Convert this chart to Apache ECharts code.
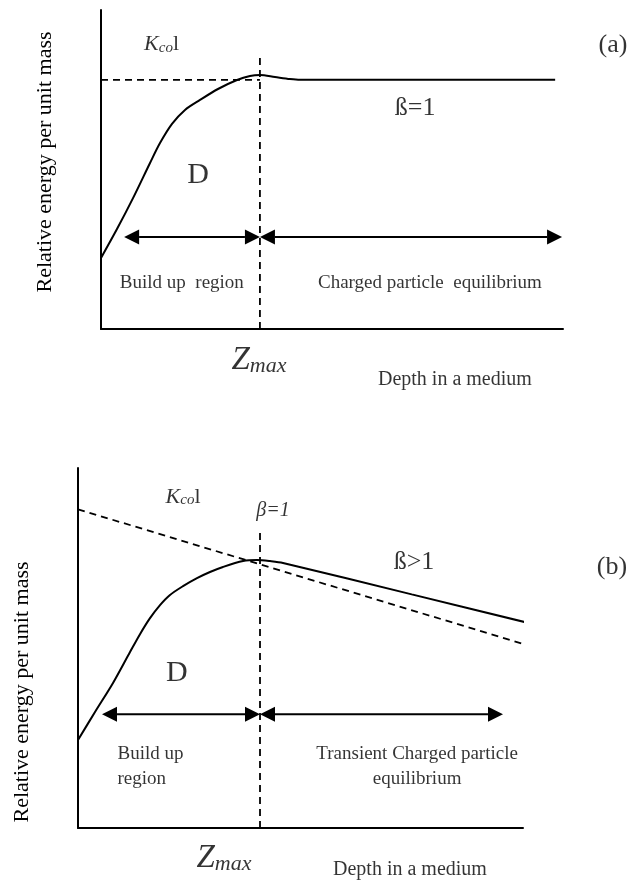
<!DOCTYPE html>
<html>
<head>
<meta charset="utf-8">
<script src="https://cdn.jsdelivr.net/npm/echarts@6/dist/echarts.min.js"></script>
<style>
  html, body { margin: 0; padding: 0; background: #fff; }
  #chart { width: 631px; height: 886px; }
</style>
</head>
<body>
<div id="chart"></div>
<script>
// ---- Panel (a): charged particle equilibrium (beta = 1) ----
const depthA  = [0, 0.346, 0.693, 1.061, 1.277, 1.537, 1.818, 2.143, 2.532, 2.944, 3.225, 3.442, 3.766, 4.091, 4.307, 9.83];
const energyA = [0.285, 0.401, 0.525, 0.666, 0.746, 0.823, 0.879, 0.919, 0.963, 0.999, 1.015, 1.019, 1.011, 1.003, 1.0, 1.0];
const kcolA = 1.0;          // collision kerma level
const zmaxA = 3.44;         // depth of dose maximum
const zmaxTopA = 1.10;      // top of the z_max marker
const arrowYA = 0.369;      // height of the region arrows
const regionsA = [[0.5, zmaxA], [zmaxA, 9.98]];

// ---- Panel (b): transient charged particle equilibrium (beta > 1) ----
const depthB  = [0, 0.382, 0.787, 1.169, 1.393, 1.618, 1.843, 2.067, 2.360, 2.674, 2.966, 3.258, 3.708, 4.022, 4.315, 4.607, 7.5, 10.49];
const energyB = [0.330, 0.435, 0.544, 0.660, 0.727, 0.787, 0.836, 0.874, 0.907, 0.937, 0.960, 0.979, 1.001, 1.005, 1.001, 0.994, 0.876, 0.754];
const kcolDepthB  = [0, 10.09];
const kcolEnergyB = [1.195, 0.686];
const zmaxB = 4.09;
const zmaxTopB = 1.11;
const arrowYB = 0.427;
const regionsB = [[0.54, zmaxB], [zmaxB, 9.55]];

const FONT = '"Liberation Serif", "Times New Roman", serif';
const INK = '#000';

const zip = (xs, ys) => xs.map((x, i) => [x, ys[i]]);

function axesFor(idx, yMax) {
  return {
    x: {
      type: 'value', gridIndex: idx, min: 0, max: 10,
      axisLine: { show: true, onZero: false, lineStyle: { color: INK, width: 2 } },
      axisTick: { show: false }, axisLabel: { show: false }, splitLine: { show: false }
    },
    y: {
      type: 'value', gridIndex: idx, min: 0, max: yMax,
      axisLine: { show: true, onZero: false, lineStyle: { color: INK, width: 2 } },
      axisTick: { show: false }, axisLabel: { show: false }, splitLine: { show: false }
    }
  };
}

function solid(idx, pts, smooth) {
  return {
    type: 'line', xAxisIndex: idx, yAxisIndex: idx, data: pts,
    smooth: smooth, symbol: 'none', clip: false, silent: true,
    lineStyle: { color: INK, width: 2 }
  };
}

function dashed(idx, pts) {
  return {
    type: 'line', xAxisIndex: idx, yAxisIndex: idx, data: pts,
    symbol: 'none', clip: false, silent: true,
    lineStyle: { color: INK, width: 1.8, type: [7, 5] }
  };
}

// double-headed arrows spanning a depth interval
function arrows(idx, spans, y) {
  return {
    type: 'custom', xAxisIndex: idx, yAxisIndex: idx, silent: true, clip: false,
    data: spans.map(s => [s[0], s[1], y]),
    encode: { x: [0, 1], y: 2 },
    renderItem(params, api) {
      const a = api.coord([api.value(0), api.value(2)]);
      const b = api.coord([api.value(1), api.value(2)]);
      const L = 15, H = 7.5;
      return {
        type: 'group',
        children: [
          { type: 'line', shape: { x1: a[0] + L, y1: a[1], x2: b[0] - L, y2: b[1] },
            style: { stroke: INK, lineWidth: 2 } },
          { type: 'polygon', shape: { points: [[a[0], a[1]], [a[0] + L, a[1] - H], [a[0] + L, a[1] + H]] },
            style: { fill: INK } },
          { type: 'polygon', shape: { points: [[b[0], b[1]], [b[0] - L, b[1] - H], [b[0] - L, b[1] + H]] },
            style: { fill: INK } }
        ]
      };
    }
  };
}

const rich = {
  K:   { fontFamily: FONT, fontSize: 22, fontStyle: 'italic', color: INK, lineHeight: 26, verticalAlign: 'bottom' },
  sub: { fontFamily: FONT, fontSize: 15, fontStyle: 'italic', color: INK, lineHeight: 14, verticalAlign: 'bottom' },
  l:   { fontFamily: FONT, fontSize: 22, color: INK, lineHeight: 26, verticalAlign: 'bottom' },
  Z:   { fontFamily: FONT, fontSize: 33, fontStyle: 'italic', color: INK, lineHeight: 34, verticalAlign: 'bottom' },
  zs:  { fontFamily: FONT, fontSize: 22, fontStyle: 'italic', color: INK, lineHeight: 19, verticalAlign: 'bottom' }
};

// text notes placed in data space of a panel
function notes(idx, items) {
  return {
    type: 'scatter', xAxisIndex: idx, yAxisIndex: idx, clip: false, silent: true,
    symbolSize: 1, itemStyle: { color: 'rgba(0,0,0,0)' },
    data: items.map(it => ({
      value: [it.x, it.y],
      label: Object.assign({
        show: true, position: 'inside', formatter: it.text,
        fontFamily: FONT, fontSize: 20, color: INK, rich: rich
      }, it.style || {})
    }))
  };
}

const KCOL = '{K|K}{sub|co}{l|l}';
const ZMAX = '{Z|Z}{zs|max}';

const axA = axesFor(0, 1.28);
const axB = axesFor(1, 1.35);

const option = {
  backgroundColor: '#fff',
  animation: false,
  grid: [
    { left: 101, top: 10, width: 462, height: 319 },
    { left: 78, top: 468, width: 445, height: 360 }
  ],
  xAxis: [axA.x, axB.x],
  yAxis: [axA.y, axB.y],
  graphic: [
    { type: 'text', x: 45, y: 162, rotation: Math.PI / 2,
      style: { text: 'Relative energy per unit mass', font: '22px ' + FONT, fill: INK, align: 'center', verticalAlign: 'middle' } },
    { type: 'text', x: 22, y: 692, rotation: Math.PI / 2,
      style: { text: 'Relative energy per unit mass', font: '22px ' + FONT, fill: INK, align: 'center', verticalAlign: 'middle' } }
  ],
  series: [
    // (a)
    dashed(0, [[0, kcolA], [zmaxA, kcolA]]),
    dashed(0, [[zmaxA, 0], [zmaxA, zmaxTopA]]),
    solid(0, zip(depthA, energyA), 0.3),
    arrows(0, regionsA, arrowYA),
    notes(0, [
      { x: 1.31, y: 1.15, text: KCOL },
      { x: 6.80, y: 0.887, text: 'ß=1', style: { fontSize: 26 } },
      { x: 2.10, y: 0.618, text: 'D', style: { fontSize: 30 } },
      { x: 1.75, y: 0.185, text: 'Build up  region', style: { fontSize: 19 } },
      { x: 7.12, y: 0.185, text: 'Charged particle  equilibrium', style: { fontSize: 19 } },
      { x: 3.42, y: -0.124, text: ZMAX },
      { x: 7.66, y: -0.205, text: 'Depth in a medium', style: { fontSize: 20 } },
      { x: 11.08, y: 1.14, text: '(a)', style: { fontSize: 26 } }
    ]),
    // (b)
    dashed(1, zip(kcolDepthB, kcolEnergyB)),
    dashed(1, [[zmaxB, 0], [zmaxB, zmaxTopB]]),
    solid(1, zip(depthB, energyB), 0.3),
    arrows(1, regionsB, arrowYB),
    notes(1, [
      { x: 2.36, y: 1.249, text: KCOL },
      { x: 4.38, y: 1.189, text: 'β=1', style: { fontSize: 20, fontStyle: 'italic' } },
      { x: 7.55, y: 0.997, text: 'ß>1', style: { fontSize: 26 } },
      { x: 12.0, y: 0.979, text: '(b)', style: { fontSize: 26 } },
      { x: 2.22, y: 0.581, text: 'D', style: { fontSize: 30 } },
      { x: 0.876, y: 0.229, text: 'Build up\nregion', style: { position: 'right', distance: 0, fontSize: 19, lineHeight: 25, align: 'left' } },
      { x: 7.62, y: 0.229, text: 'Transient Charged particle\nequilibrium', style: { fontSize: 19, lineHeight: 25, align: 'center' } },
      { x: 3.28, y: -0.112, text: ZMAX },
      { x: 7.46, y: -0.157, text: 'Depth in a medium', style: { fontSize: 20 } }
    ])
  ]
};

const chart = echarts.init(document.getElementById('chart'), null, { renderer: 'canvas' });
chart.setOption(option);
</script>
</body>
</html>
